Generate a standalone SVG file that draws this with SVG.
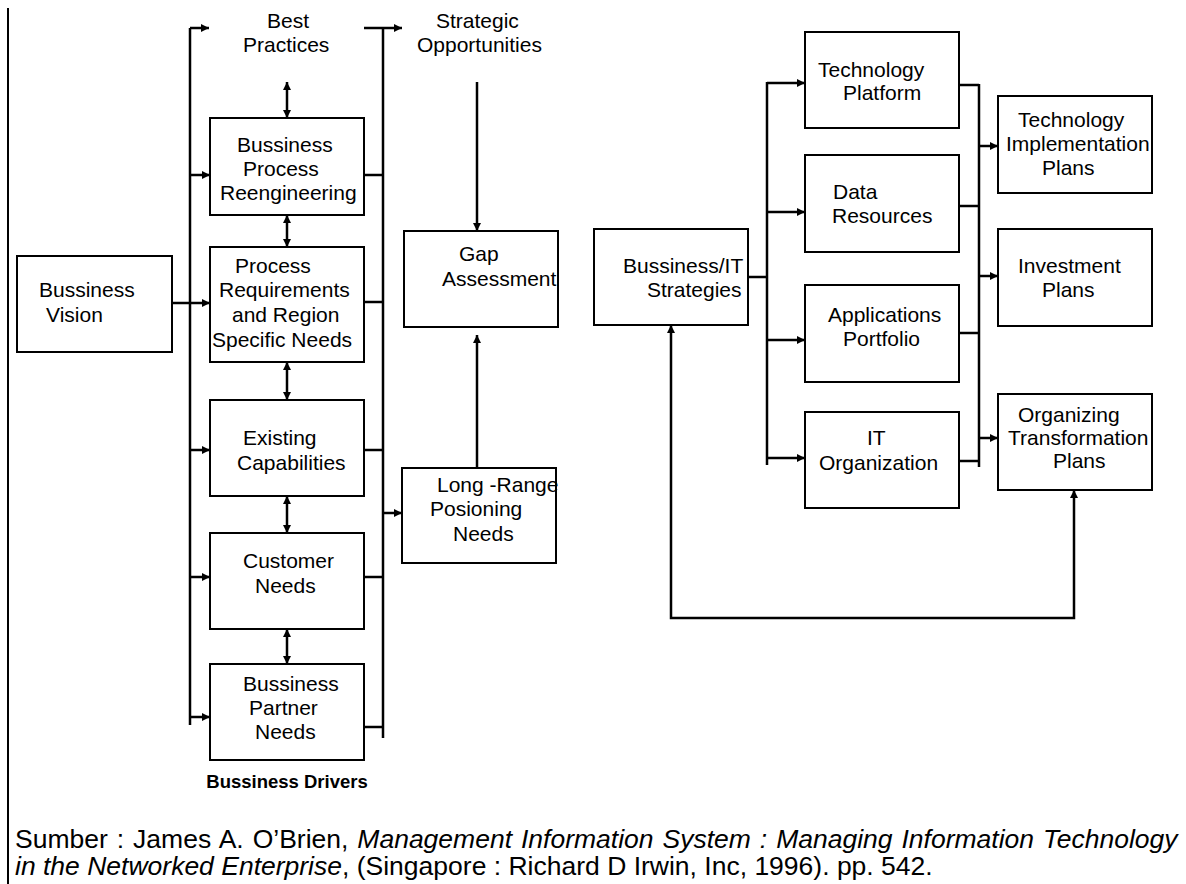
<svg xmlns="http://www.w3.org/2000/svg" width="1186" height="884" viewBox="0 0 1186 884">
<defs>
<marker id="arr" viewBox="0 0 10 10" refX="10" refY="5" markerWidth="9" markerHeight="8" markerUnits="userSpaceOnUse" orient="auto-start-reverse">
<path d="M0,0 L10,5 L0,10 Z" fill="#000"/>
</marker>
</defs>
<style>
.box{fill:#fff;stroke:#000;stroke-width:2}
.ln{fill:none;stroke:#000;stroke-width:2.5}
.ar{fill:none;stroke:#000;stroke-width:2.5;marker-end:url(#arr)}
.dar{fill:none;stroke:#000;stroke-width:2.5;marker-start:url(#arr);marker-end:url(#arr)}
text{font-family:"Liberation Sans",Arial,sans-serif;font-size:21px;fill:#000}
.bold{font-weight:bold;font-size:18.5px}
.cap{font-size:26.5px}
.it{font-style:italic}
</style>
<rect width="1186" height="884" fill="#fff"/>
<line x1="8" y1="8" x2="8" y2="884" stroke="#000" stroke-width="2"/>

<g id="connectors">
<!-- left bus -->
<line class="ln" x1="190" y1="28" x2="190" y2="725"/>
<line class="ar" x1="190" y1="28" x2="209" y2="28"/>
<line class="ar" x1="172" y1="303" x2="210" y2="303"/>
<line class="ar" x1="190" y1="175" x2="210" y2="175"/>
<line class="ar" x1="190" y1="450" x2="210" y2="450"/>
<line class="ar" x1="190" y1="577" x2="210" y2="577"/>
<line class="ar" x1="190" y1="717" x2="210" y2="717"/>
<!-- double arrows -->
<line class="dar" x1="287" y1="82" x2="287" y2="118"/>
<line class="dar" x1="287" y1="215" x2="287" y2="247"/>
<line class="dar" x1="287" y1="362" x2="287" y2="400"/>
<line class="dar" x1="287" y1="496" x2="287" y2="533"/>
<line class="dar" x1="287" y1="629" x2="287" y2="664"/>
<!-- right bus of drivers -->
<line class="ln" x1="383" y1="28" x2="383" y2="738"/>
<line class="ar" x1="364" y1="28" x2="402" y2="28"/>
<line class="ln" x1="364" y1="175" x2="383" y2="175"/>
<line class="ln" x1="364" y1="302" x2="383" y2="302"/>
<line class="ln" x1="364" y1="450" x2="383" y2="450"/>
<line class="ln" x1="364" y1="577" x2="383" y2="577"/>
<line class="ln" x1="364" y1="727" x2="383" y2="727"/>
<line class="ar" x1="383" y1="513" x2="402" y2="513"/>
<!-- gap arrows -->
<line class="ar" x1="477" y1="82" x2="477" y2="231"/>
<line class="ar" x1="477" y1="468" x2="477" y2="335"/>
<!-- IT side -->
<line class="ln" x1="748" y1="277" x2="767" y2="277"/>
<line class="ln" x1="767" y1="82" x2="767" y2="465"/>
<line class="ar" x1="767" y1="83" x2="805" y2="83"/>
<line class="ar" x1="767" y1="212" x2="805" y2="212"/>
<line class="ar" x1="767" y1="340" x2="805" y2="340"/>
<line class="ar" x1="767" y1="458" x2="805" y2="458"/>
<line class="ln" x1="959" y1="85" x2="979" y2="85"/>
<line class="ln" x1="959" y1="206" x2="979" y2="206"/>
<line class="ln" x1="959" y1="333" x2="979" y2="333"/>
<line class="ln" x1="959" y1="461" x2="979" y2="461"/>
<line class="ln" x1="979" y1="84" x2="979" y2="467"/>
<line class="ar" x1="979" y1="146" x2="998" y2="146"/>
<line class="ar" x1="979" y1="276" x2="998" y2="276"/>
<line class="ar" x1="979" y1="438" x2="998" y2="438"/>
<!-- feedback -->
<path class="dar" d="M1074,490 L1074,618 L671,618 L671,325"/>
</g>

<g id="best-practices">
<text x="267" y="28">Best</text>
<text x="243" y="52">Practices</text>
</g>
<g id="strategic-opportunities">
<text x="436" y="28">Strategic</text>
<text x="417" y="52">Opportunities</text>
</g>
<g id="bussiness-vision">
<rect class="box" x="17" y="256" width="155" height="96"/>
<text x="39" y="297">Bussiness</text>
<text x="46" y="322">Vision</text>
</g>
<g id="bpr">
<rect class="box" x="210" y="118" width="154" height="97"/>
<text x="237" y="152">Bussiness</text>
<text x="243" y="176">Process</text>
<text x="220" y="200">Reengineering</text>
</g>
<g id="process-req">
<rect class="box" x="210" y="247" width="154" height="115"/>
<text x="235" y="273">Process</text>
<text x="219" y="297">Requirements</text>
<text x="232" y="322">and Region</text>
<text x="212" y="347">Specific Needs</text>
</g>
<g id="existing">
<rect class="box" x="210" y="400" width="154" height="96"/>
<text x="243" y="445">Existing</text>
<text x="237" y="470">Capabilities</text>
</g>
<g id="customer">
<rect class="box" x="210" y="533" width="154" height="96"/>
<text x="243" y="568">Customer</text>
<text x="255" y="593">Needs</text>
</g>
<g id="partner">
<rect class="box" x="210" y="664" width="154" height="96"/>
<text x="243" y="691">Bussiness</text>
<text x="249" y="715">Partner</text>
<text x="255" y="739">Needs</text>
</g>
<g id="drivers-label">
<text class="bold" x="287" y="788" text-anchor="middle">Bussiness Drivers</text>
</g>
<g id="gap">
<rect class="box" x="404" y="231" width="154" height="96"/>
<text x="459" y="261">Gap</text>
<text x="442" y="286">Assessment</text>
</g>
<g id="long-range">
<rect class="box" x="402" y="468" width="154" height="95"/>
<text x="437" y="492">Long -Range</text>
<text x="430" y="516">Posioning</text>
<text x="453" y="541">Needs</text>
</g>
<g id="bit-strategies">
<rect class="box" x="594" y="229" width="154" height="96"/>
<text x="623" y="273">Bussiness/IT</text>
<text x="647" y="297">Strategies</text>
</g>
<g id="tech-platform">
<rect class="box" x="805" y="32" width="154" height="96"/>
<text x="818" y="77">Technology</text>
<text x="843" y="100">Platform</text>
</g>
<g id="data-resources">
<rect class="box" x="805" y="155" width="154" height="97"/>
<text x="833" y="199">Data</text>
<text x="832" y="223">Resources</text>
</g>
<g id="applications">
<rect class="box" x="805" y="285" width="154" height="97"/>
<text x="828" y="322">Applications</text>
<text x="843" y="346">Portfolio</text>
</g>
<g id="it-organization">
<rect class="box" x="805" y="412" width="154" height="96"/>
<text x="867" y="445">IT</text>
<text x="819" y="470">Organization</text>
</g>
<g id="tech-impl">
<rect class="box" x="998" y="96" width="154" height="97"/>
<text x="1018" y="127">Technology</text>
<text x="1006" y="151">Implementation</text>
<text x="1042" y="175">Plans</text>
</g>
<g id="investment">
<rect class="box" x="998" y="229" width="154" height="97"/>
<text x="1018" y="273">Investment</text>
<text x="1042" y="297">Plans</text>
</g>
<g id="org-transform">
<rect class="box" x="998" y="394" width="154" height="96"/>
<text x="1018" y="422">Organizing</text>
<text x="1008" y="445">Transformation</text>
<text x="1053" y="468">Plans</text>
</g>
<g id="caption">
<text class="cap" x="15" y="848" word-spacing="1.6">Sumber : James A. O’Brien, <tspan class="it">Management Information System : Managing Information Technology</tspan></text>
<text class="cap" x="15" y="875"><tspan class="it">in the Networked Enterprise</tspan>, (Singapore : Richard D Irwin, Inc, 1996). pp. 542.</text>
</g>
</svg>
